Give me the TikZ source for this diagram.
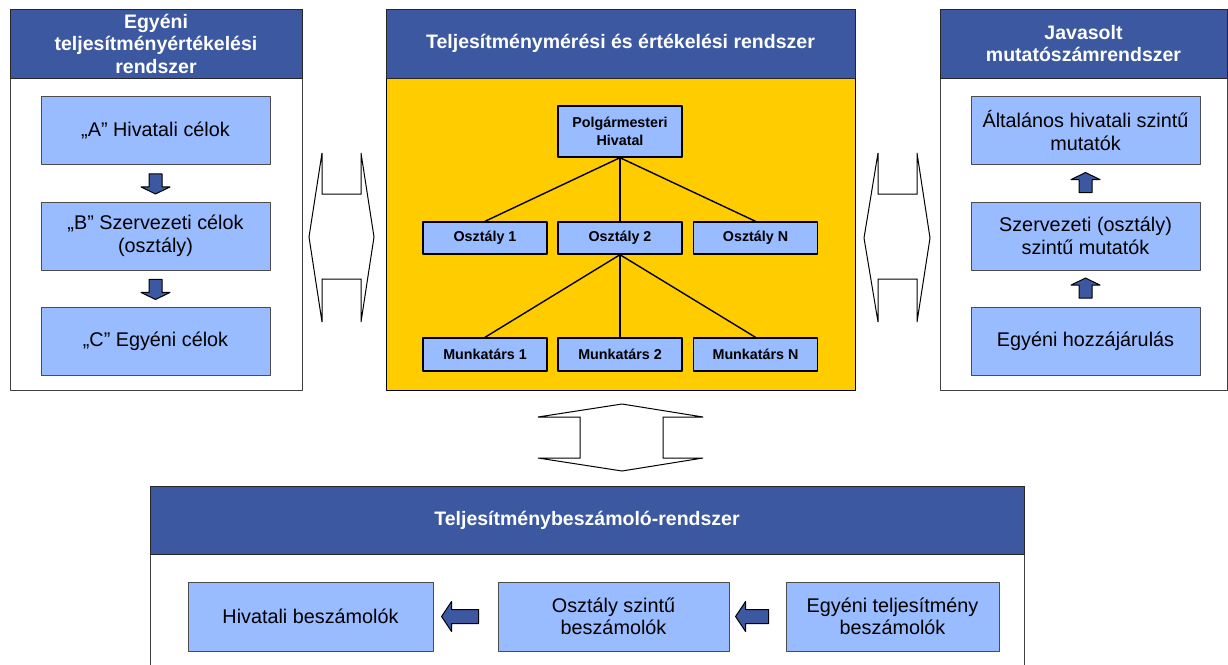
\documentclass[tikz,border=0pt]{standalone}
\usepackage{fontspec}
\setmainfont{Liberation Sans}
\usetikzlibrary{calc}
\definecolor{headblue}{RGB}{60,88,160}
\definecolor{boxblue}{RGB}{153,187,255}
\definecolor{orgyellow}{RGB}{255,204,0}
\tikzset{
    panel/.style={
        draw=black!75, fill=white, line width=0.9pt, inner sep=0pt
    },
    panelhead/.style={
        draw=black!85, fill=headblue, text=white, line width=0.9pt,
        align=center, inner sep=0pt,
        font=\fontsize{19.5}{22.5}\selectfont\bfseries
    },
    goalbox/.style={
        draw=black!70, fill=boxblue, line width=0.9pt,
        minimum width=229pt, minimum height=68pt, align=center,
        font=\fontsize{19.8}{22.5}\selectfont
    },
    orgbox/.style={
        draw=black, fill=boxblue, line width=1.4pt,
        minimum width=124pt, align=center, inner sep=0pt,
        font=\fontsize{14.3}{18}\selectfont\bfseries
    },
    hollow/.style={
        draw=black, fill=white, line width=1pt, line join=miter
    },
    pics/blockarrow/.style n args={4}{
        code={
            \draw[draw=black, fill=headblue, line width=1pt]
                (0,-#4) -- (#1-#2,-#4) -- (#1-#2,-#3) -- (#1,0)
                -- (#1-#2,#3) -- (#1-#2,#4) -- (0,#4) -- cycle;
        }
    }
}

\begin{document}
\begin{tikzpicture}[x=1pt,y=-1pt,line cap=round,line join=round]

    \useasboundingbox (0,0) rectangle (1228,664);
    \fill[white] (0,0) rectangle (1228,664);

% --- left panel: individual goals ---
    \node[panel, minimum width=292pt, minimum height=381pt] (egyeni) at (156,199.5) {};
    \node[panelhead, minimum width=292pt, minimum height=69pt, anchor=north] (egyenihead) at (egyeni.north)
        {Egyéni\\teljesítményértékelési\\rendszer};
    \node[goalbox] (celA) at (155.5,130.5) {„A” Hivatali célok};
    \node[goalbox] (celB) at (155.5,236) {„B” Szervezeti célok\\(osztály)};
    \node[goalbox] (celC) at (155.5,341.5) {„C” Egyéni célok};
    \pic[rotate=-90] at ($(celA.south)+(0,9)$) {blockarrow={20}{7}{14.5}{6.5}};
    \pic[rotate=-90] at ($(celB.south)+(0,9)$) {blockarrow={20}{7}{14.5}{6.5}};

% --- centre panel: organisation tree ---
    \node[panel, minimum width=469pt, minimum height=381pt, fill=orgyellow, draw=black] (meres) at (620.5,199.5) {};
    \node[panelhead, minimum width=469pt, minimum height=69pt, anchor=north] (mereshead) at (meres.north)
        {Teljesítménymérési és értékelési rendszer};
    \node[orgbox, minimum height=51pt] (hivatal) at (620,131.5) {Polgármesteri\\Hivatal};
    \node[orgbox, minimum height=32pt] (oszt1) at (485,238) {Osztály 1};
    \node[orgbox, minimum height=32pt] (oszt2) at (620,238) {Osztály 2};
    \node[orgbox, minimum height=32pt] (osztN) at (755.5,238) {Osztály N};
    \node[orgbox, minimum height=33pt] (munk1) at (485,354.5) {Munkatárs 1};
    \node[orgbox, minimum height=33pt] (munk2) at (620,354.5) {Munkatárs 2};
    \node[orgbox, minimum height=33pt] (munkN) at (755.5,354.5) {Munkatárs N};
    \foreach \n in {oszt1,oszt2,osztN}
        \draw[line width=1.4pt] (hivatal.south) -- (\n.north);
    \foreach \n in {munk1,munk2,munkN}
        \draw[line width=1.4pt] (oszt2.south) -- (\n.north);

% --- right panel: proposed indicators ---
    \node[panel, minimum width=287pt, minimum height=381pt] (mutato) at (1083.5,199.5) {};
    \node[panelhead, minimum width=287pt, minimum height=69pt, anchor=north] (mutatohead) at (mutato.north)
        {Javasolt\\mutatószámrendszer};
    \node[goalbox] (mutA) at (1085.5,130.5) {Általános hivatali szintű\\mutatók};
    \node[goalbox] (mutB) at (1085.5,236) {Szervezeti (osztály)\\szintű mutatók};
    \node[goalbox] (mutC) at (1085.5,341.5) {Egyéni hozzájárulás};
    \pic[rotate=90] at ($(mutB.north)+(0,-9)$) {blockarrow={20}{7}{14.5}{6.5}};
    \pic[rotate=90] at ($(mutC.north)+(0,-9)$) {blockarrow={20}{7}{14.5}{6.5}};

% --- two-way links between the panels ---
    \draw[hollow] (322,153) -- (322,194) -- (361,194) -- (361,153) -- (374,237) -- (361,322)
        -- (361,279) -- (322,279) -- (322,322) -- (309,237) -- cycle;
    \draw[hollow] (878,153) -- (878,194) -- (917,194) -- (917,153) -- (930,238) -- (917,322)
        -- (917,279) -- (878,279) -- (878,322) -- (864,238) -- cycle;
    \draw[hollow] (622,404) -- (703,417) -- (663,417) -- (663,458) -- (703,458) -- (622,471)
        -- (538,458) -- (580,458) -- (580,417) -- (538,417) -- cycle;

% --- bottom panel: reporting (open at the page edge) ---
    \fill[white] (150,486) rectangle (1024,670);
    \draw[draw=black!75, line width=0.9pt] (150,670) -- (150,486) -- (1024,486) -- (1024,670);
    \node[panelhead, minimum width=874pt, minimum height=68pt, anchor=north] (beszhead) at (587,486)
        {Teljesítménybeszámoló-rendszer};
    \node[goalbox, minimum width=245pt, minimum height=69pt] (beszH) at (310.5,616.5) {Hivatali beszámolók};
    \node[goalbox, minimum width=231pt, minimum height=69pt] (beszO) at (613.5,616.5) {Osztály szintű\\beszámolók};
    \node[goalbox, minimum width=213pt, minimum height=69pt] (beszE) at (892.5,616.5) {Egyéni teljesítmény\\beszámolók};
    \pic[rotate=180] at ($(beszO.west)+(-19,0)$) {blockarrow={37}{10}{15}{7}};
    \pic[rotate=180] at ($(beszE.west)+(-17,0)$) {blockarrow={33}{10}{15}{7}};

\end{tikzpicture}
\end{document}
